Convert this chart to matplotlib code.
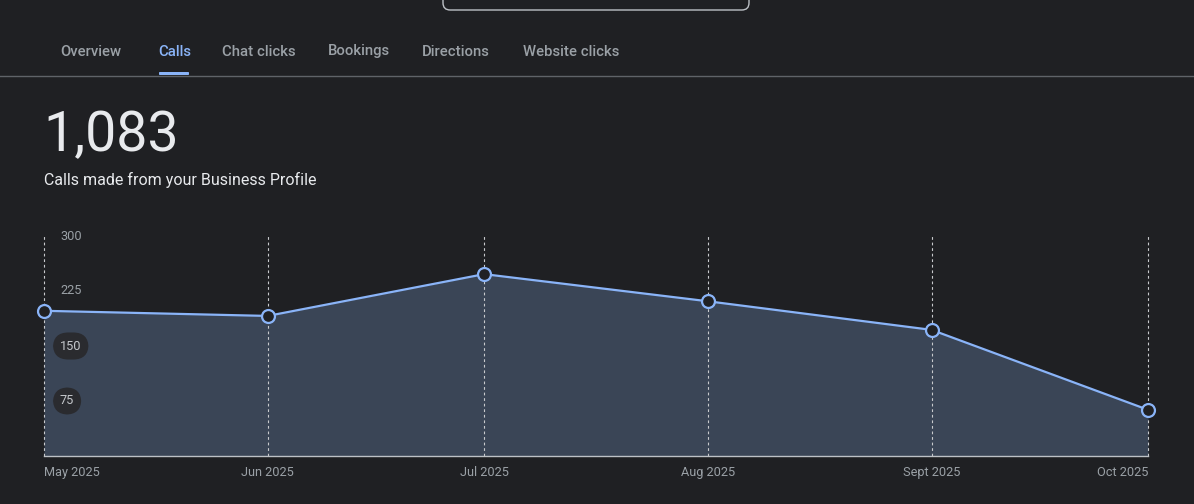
import matplotlib
matplotlib.use("Agg")
import matplotlib.pyplot as plt
import matplotlib.dates as mdates
from matplotlib.patches import FancyBboxPatch
import matplotlib.transforms as mtransforms
from datetime import datetime

# ---- data ----
months = ["2025-05-01", "2025-06-01", "2025-07-01", "2025-08-01", "2025-09-01", "2025-10-01"]
month_labels = ["May 2025", "Jun 2025", "Jul 2025", "Aug 2025", "Sept 2025", "Oct 2025"]
calls = [198, 191, 248, 211, 172, 63]
y_ticks = [75, 150, 225, 300]
tabs = ["Overview", "Calls", "Chat clicks", "Bookings", "Directions", "Website clicks"]
active_tab = "Calls"
total_label = "1,083"
subtitle = "Calls made from your Business Profile"

# ---- style ----
BG = "#1f2023"
FILL = "#3a4556"
LINE = "#8ab4f8"
TXT = "#e8eaed"
MUTED = "#9aa0a6"
PILL = "#2a2b2f"

plt.rcParams['font.family'] = ['Roboto', 'DejaVu Sans']

W, H = 1194, 504
fig = plt.figure(figsize=(W / 100, H / 100), dpi=100, facecolor=BG)

def fx(px):
    return px / W

def fy(py):
    return 1 - py / H

# top box (search field remnant)
box = FancyBboxPatch((fx(443), fy(10)), fx(306), fy(-10) - fy(10),
                     boxstyle="round,pad=0,rounding_size=0.006",
                     transform=fig.transFigure, facecolor=BG, edgecolor="#bdc1c6",
                     linewidth=1.0, mutation_aspect=W / H)
fig.patches.append(box)

# tabs
tab_x = [60, 158, 222, 328, 422, 523]
for name, x in zip(tabs, tab_x):
    col = LINE if name == active_tab else MUTED
    fig.text(fx(x), fy(51.5), name, color=col, fontsize=10.7, ha="left", va="center",
             fontweight="medium")
# underline of active tab
ul = FancyBboxPatch((fx(159), fy(75)), fx(30), fy(72) - fy(75),
                    boxstyle="round,pad=0,rounding_size=0.001",
                    transform=fig.transFigure, facecolor=LINE, edgecolor="none")
fig.patches.append(ul)
# separator line
fig.add_artist(plt.Line2D([0, 1], [fy(75.5), fy(75.5)], transform=fig.transFigure,
                          color="#5f6368", linewidth=1.0))

# headline
fig.text(fx(43), fy(136), total_label, color=TXT, fontsize=40, ha="left", va="center",
         fontweight="normal")
fig.text(fx(44), fy(180), subtitle, color=TXT, fontsize=11.5, ha="left", va="center")

# ---- chart ----
ax = fig.add_axes([fx(44), fy(456), fx(1148) - fx(44), fy(236) - fy(456)])
ax.set_facecolor(BG)
dates = [datetime.strptime(m, "%Y-%m-%d") for m in months]
xd = mdates.date2num(dates)

ax.fill_between(xd, calls, 0, color=FILL, linewidth=0, zorder=1)
for x in xd:
    ax.axvline(x, color="#c8cacd", linestyle=(0, (2.5, 2.5)), linewidth=0.8, zorder=2,
               clip_on=False)
ax.plot(xd, calls, color=LINE, linewidth=1.6, zorder=3, solid_capstyle="round")
ax.plot(xd, calls, linestyle="none", marker="o", markersize=9.3,
        markerfacecolor="#202124", markeredgecolor=LINE, markeredgewidth=1.6,
        zorder=4, clip_on=False)

ax.set_xlim(xd[0], xd[-1])
ax.set_ylim(0, 300)
for s in ["top", "right", "left"]:
    ax.spines[s].set_visible(False)
ax.spines["bottom"].set_color("#bdc1c6")
ax.spines["bottom"].set_linewidth(1.0)
ax.set_yticks([])

ax.set_xticks(xd)
ax.set_xticklabels(month_labels, color=MUTED, fontsize=9.2)
ax.tick_params(axis="x", length=0, pad=7)
labels = ax.get_xticklabels()
labels[0].set_ha("left")
labels[-1].set_ha("right")

trans = mtransforms.blended_transform_factory(ax.transAxes, ax.transData)
xa = (fx(60) - fx(44)) / (fx(1148) - fx(44))
for v in y_ticks:
    if v < 200:
        ax.text(xa, v, str(v), transform=trans, color="#c4c7cb", fontsize=9.2,
                ha="left", va="center", zorder=6,
                bbox=dict(boxstyle="round,pad=0.55,rounding_size=1.2", facecolor=PILL,
                          edgecolor="none"))
    else:
        ax.text(xa, v, str(v), transform=trans, color=MUTED, fontsize=9.2,
                ha="left", va="center", zorder=6)

fig.savefig("out.png", dpi=100, facecolor=BG)
